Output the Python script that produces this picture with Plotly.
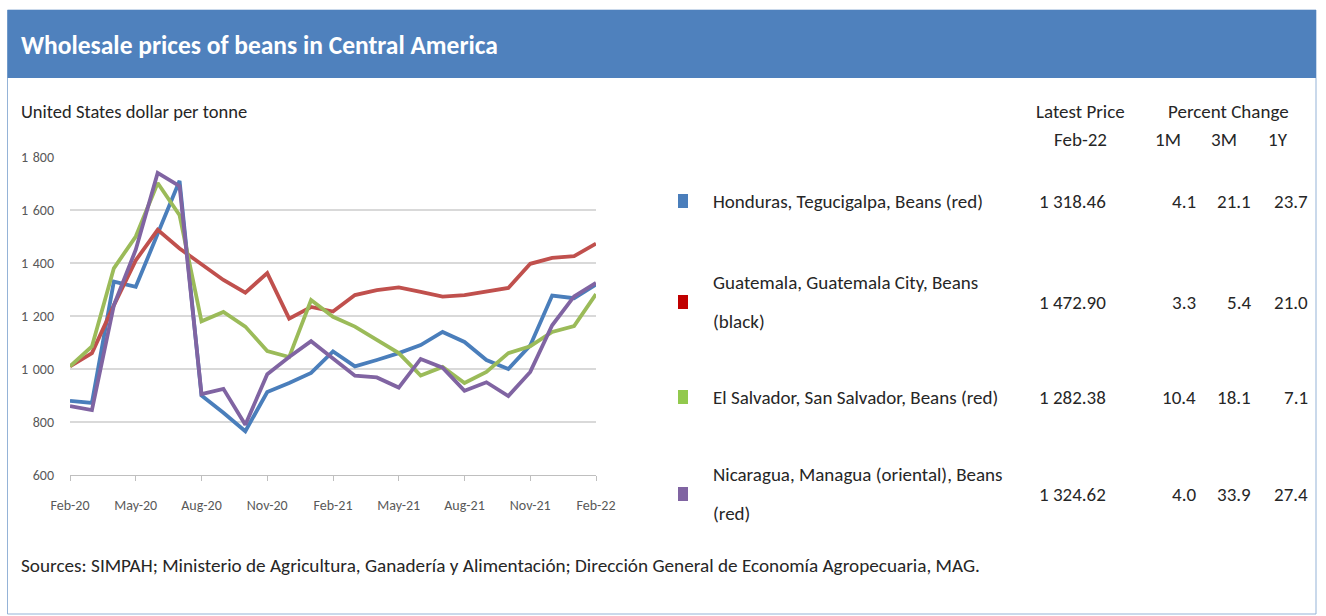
import plotly.graph_objects as go

months = ["Feb-20", "Mar-20", "Apr-20", "May-20", "Jun-20", "Jul-20", "Aug-20", "Sep-20",
          "Oct-20", "Nov-20", "Dec-20", "Jan-21", "Feb-21", "Mar-21", "Apr-21", "May-21",
          "Jun-21", "Jul-21", "Aug-21", "Sep-21", "Oct-21", "Nov-21", "Dec-21", "Jan-22", "Feb-22"]
tick_months = ["Feb-20", "May-20", "Aug-20", "Nov-20", "Feb-21", "May-21", "Aug-21", "Nov-21", "Feb-22"]
y_tick_values = [600, 800, 1000, 1200, 1400, 1600, 1800]
y_tick_labels = ["600", "800", "1\u2004000", "1\u2004200", "1\u2004400", "1\u2004600", "1\u2004800"]

honduras = [880, 872, 1330, 1310, 1510, 1710, 900, 835, 765, 913, 947, 985, 1066, 1010, 1034,
            1060, 1090, 1140, 1102, 1034, 1000, 1089, 1277, 1267, 1318.46]
guatemala = [1010, 1060, 1240, 1410, 1525, 1455, 1395, 1336, 1288, 1362, 1190, 1234, 1217, 1279,
             1298, 1308, 1291, 1273, 1279, 1291, 1306, 1397, 1419, 1426, 1472.90]
elsalvador = [1010, 1085, 1380, 1500, 1702, 1580, 1180, 1215, 1160, 1068, 1045, 1260, 1197, 1160,
              1110, 1060, 975, 1008, 947, 989, 1060, 1086, 1140, 1162, 1282.38]
nicaragua = [860, 845, 1240, 1450, 1740, 1690, 905, 925, 790, 980, 1045, 1105, 1040, 975, 968,
             930, 1038, 1005, 918, 950, 898, 989, 1165, 1274, 1324.62]

series_names = ["Honduras, Tegucigalpa, Beans (red)",
                "Guatemala, Guatemala City, Beans<br>(black)",
                "El Salvador, San Salvador, Beans (red)",
                "Nicaragua, Managua (oriental), Beans<br>(red)"]
latest_price = ["1 318.46", "1 472.90", "1 282.38", "1 324.62"]
change_1m = ["4.1", "3.3", "10.4", "4.0"]
change_3m = ["21.1", "5.4", "18.1", "33.9"]
change_1y = ["23.7", "21.0", "7.1", "27.4"]

line_colors = ["#4a7ebb", "#c0504d", "#9bbb59", "#8064a2"]
square_colors = ["#4a7ebb", "#c00000", "#92c94d", "#8064a2"]

FONT = "Calibri, Carlito, Lato, sans-serif"
TXT = "#262626"

# plot area in pixels
L, R, T, B = 70, 596, 157, 475
W, H = 1326, 616


def px(x):
    return (x - L) / (R - L)


def py(y):
    return (B - y) / (B - T)


fig = go.Figure()
for name, vals, col in zip(series_names, [honduras, guatemala, elsalvador, nicaragua], line_colors):
    fig.add_trace(go.Scatter(x=months, y=vals, mode="lines", name=name.replace("<br>", " "),
                             line=dict(color=col, width=3.8), showlegend=False))

shapes = []
annotations = []

# panel border and title bar
shapes.append(dict(type="rect", xref="paper", yref="paper", x0=px(7.5), x1=px(1316), y0=py(614), y1=py(10),
                   line=dict(color="#95b3d7", width=1), fillcolor="rgba(0,0,0,0)", layer="below"))
shapes.append(dict(type="rect", xref="paper", yref="paper", x0=px(7.5), x1=px(1316), y0=py(78), y1=py(10),
                   line=dict(width=0), fillcolor="#4f81bd", layer="below"))

annotations.append(dict(text="<b>Wholesale prices of beans in Central America</b>", x=px(19), y=py(45),
                        xref="paper", yref="paper", xanchor="left", yanchor="middle", showarrow=False,
                        font=dict(family=FONT, size=25.5, color="white")))
annotations.append(dict(text="United States dollar per tonne", x=px(19), y=py(111),
                        xref="paper", yref="paper", xanchor="left", yanchor="middle", showarrow=False,
                        font=dict(family=FONT, size=18.5, color=TXT)))
annotations.append(dict(text="Sources: SIMPAH; Ministerio de Agricultura, Ganadería y Alimentación; "
                             "Dirección General de Economía Agropecuaria, MAG.",
                        x=px(19), y=py(565), xref="paper", yref="paper", xanchor="left", yanchor="middle",
                        showarrow=False, font=dict(family=FONT, size=19.2, color=TXT)))

# table headers
hdr = dict(xref="paper", yref="paper", showarrow=False, yanchor="middle",
           font=dict(family=FONT, size=19, color=TXT))
annotations.append(dict(text="Latest Price", x=px(1080), y=py(111), xanchor="center", **hdr))
annotations.append(dict(text="Feb-22", x=px(1080), y=py(139), xanchor="center", **hdr))
annotations.append(dict(text="Percent Change", x=px(1228), y=py(111), xanchor="center", **hdr))
annotations.append(dict(text="1M", x=px(1168), y=py(139), xanchor="center", **hdr))
annotations.append(dict(text="3M", x=px(1224), y=py(139), xanchor="center", **hdr))
annotations.append(dict(text="1Y", x=px(1278), y=py(139), xanchor="center", **hdr))

row_y = [201, 302, 397, 494]
for i, name in enumerate(series_names):
    yy = row_y[i]
    shapes.append(dict(type="rect", xref="paper", yref="paper", x0=px(678), x1=px(688),
                       y0=py(yy + 7), y1=py(yy - 7), line=dict(width=0), fillcolor=square_colors[i]))
    parts = name.split("<br>")
    if len(parts) == 1:
        annotations.append(dict(text=parts[0], x=px(711), y=py(yy), xanchor="left", **hdr))
    else:
        annotations.append(dict(text=parts[0], x=px(711), y=py(yy - 19.5), xanchor="left", **hdr))
        annotations.append(dict(text=parts[1], x=px(711), y=py(yy + 19.5), xanchor="left", **hdr))
    annotations.append(dict(text=latest_price[i], x=px(1108), y=py(yy), xanchor="right", **hdr))
    annotations.append(dict(text=change_1m[i], x=px(1198), y=py(yy), xanchor="right", **hdr))
    annotations.append(dict(text=change_3m[i], x=px(1253), y=py(yy), xanchor="right", **hdr))
    annotations.append(dict(text=change_1y[i], x=px(1310), y=py(yy), xanchor="right", **hdr))

fig.update_layout(
    width=W, height=H,
    margin=dict(l=L, r=W - R, t=T, b=H - B, pad=0),
    paper_bgcolor="white", plot_bgcolor="white",
    shapes=shapes, annotations=annotations,
    font=dict(family=FONT, color="#595959"),
    xaxis=dict(type="category", categoryorder="array", categoryarray=months,
               tickvals=tick_months, ticktext=tick_months, range=[0, 24],
               showgrid=False, zeroline=False, showline=True, linecolor="#bfbfbf", linewidth=1,
               ticks="outside", ticklen=5, tickcolor="#bfbfbf", ticklabelstandoff=12,
               tickfont=dict(family=FONT, size=14, color="#595959")),
    yaxis=dict(range=[600, 1800], tickvals=y_tick_values, ticktext=y_tick_labels,
               showgrid=True, gridcolor="#d9d9d9", gridwidth=1.5,
               zeroline=False, showline=False, ticks="", ticklabelstandoff=15,
               tickfont=dict(family=FONT, size=14, color="#595959")),
)

fig.write_html("out.html")
